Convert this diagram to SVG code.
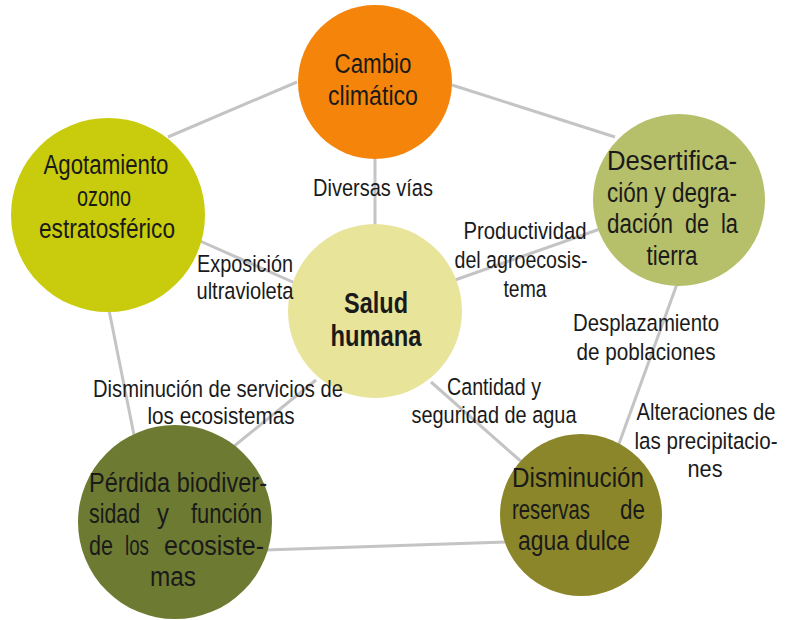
<svg xmlns="http://www.w3.org/2000/svg" width="794" height="620" viewBox="0 0 794 620">
<style>
text{font-family:"Liberation Sans","Arial",sans-serif;fill:#1a1a1a}
.n{font-size:27px;text-anchor:middle}
.l{font-size:24.5px;text-anchor:middle}
.b{font-size:29px;font-weight:bold;text-anchor:middle}
.s{text-anchor:start}
.e{text-anchor:end}
.c line{stroke:#c4c4c4;stroke-width:3}
</style>
<rect width="794" height="620" fill="#ffffff"/>
<g id="connectors" class="c">
<line x1="297" y1="82" x2="168" y2="137"/>
<line x1="452" y1="85" x2="615" y2="137"/>
<line x1="375" y1="150" x2="375" y2="230"/>
<line x1="200" y1="241" x2="295" y2="283"/>
<line x1="455" y1="280" x2="600" y2="229"/>
<line x1="109" y1="310" x2="136" y2="445"/>
<line x1="677" y1="284" x2="616" y2="452"/>
<line x1="316" y1="380" x2="228" y2="451"/>
<line x1="431" y1="382" x2="524" y2="464"/>
<line x1="265" y1="550" x2="506" y2="542"/>
</g>
<g id="cambio">
<circle cx="375" cy="82" r="77" fill="#f4850a"/>
<text class="n" x="373" y="73" textLength="77" lengthAdjust="spacingAndGlyphs">Cambio</text>
<text class="n" x="373" y="105" textLength="90" lengthAdjust="spacingAndGlyphs">climático</text>
</g>
<g id="desertificacion">
<circle cx="679" cy="200" r="86" fill="#b6bf6a"/>
<text class="n s" x="607" y="170" textLength="130" lengthAdjust="spacingAndGlyphs">Desertifica-</text>
<text class="n s" x="607" y="202" textLength="130" lengthAdjust="spacingAndGlyphs">ción y degra-</text>
<text class="n s" x="607" y="233" textLength="66" lengthAdjust="spacingAndGlyphs">dación</text>
<text class="n s" x="685" y="233" textLength="24" lengthAdjust="spacingAndGlyphs">de</text>
<text class="n e" x="738" y="233" textLength="17" lengthAdjust="spacingAndGlyphs">la</text>
<text class="n" x="672" y="265" textLength="51" lengthAdjust="spacingAndGlyphs">tierra</text>
</g>
<g id="agotamiento">
<circle cx="108" cy="215" r="97" fill="#c8cc0c"/>
<text class="n" x="106" y="174" textLength="125" lengthAdjust="spacingAndGlyphs">Agotamiento</text>
<text class="n" x="104" y="206" textLength="54" lengthAdjust="spacingAndGlyphs">ozono</text>
<text class="n" x="107" y="238" textLength="136" lengthAdjust="spacingAndGlyphs">estratosférico</text>
</g>
<g id="salud">
<circle cx="375" cy="311" r="87" fill="#e8e49a"/>
<text class="b" x="376" y="313" textLength="64" lengthAdjust="spacingAndGlyphs">Salud</text>
<text class="b" x="376" y="346" textLength="91" lengthAdjust="spacingAndGlyphs">humana</text>
</g>
<g id="perdida">
<circle cx="175" cy="522" r="97" fill="#6d7a32"/>
<text class="n s" x="89" y="492" textLength="178" lengthAdjust="spacingAndGlyphs">Pérdida biodiver-</text>
<text class="n s" x="89" y="523" textLength="51" lengthAdjust="spacingAndGlyphs">sidad</text>
<text class="n s" x="157" y="523" textLength="12" lengthAdjust="spacingAndGlyphs">y</text>
<text class="n e" x="262" y="523" textLength="71" lengthAdjust="spacingAndGlyphs">función</text>
<text class="n s" x="89" y="555" textLength="24" lengthAdjust="spacingAndGlyphs">de</text>
<text class="n s" x="125" y="555" textLength="24" lengthAdjust="spacingAndGlyphs">los</text>
<text class="n e" x="264" y="555" textLength="100" lengthAdjust="spacingAndGlyphs">ecosiste-</text>
<text class="n" x="173" y="586" textLength="46" lengthAdjust="spacingAndGlyphs">mas</text>
</g>
<g id="disminucion">
<circle cx="581" cy="515" r="81" fill="#8b8629"/>
<text class="n" x="578" y="487" textLength="132" lengthAdjust="spacingAndGlyphs">Disminución</text>
<text class="n s" x="512" y="519" textLength="78" lengthAdjust="spacingAndGlyphs">reservas</text>
<text class="n e" x="645" y="519" textLength="25" lengthAdjust="spacingAndGlyphs">de</text>
<text class="n" x="574" y="550" textLength="112" lengthAdjust="spacingAndGlyphs">agua dulce</text>
</g>
<g id="labels">
<text class="l" x="373" y="196" textLength="120" lengthAdjust="spacingAndGlyphs">Diversas vías</text>
<text class="l" x="245" y="272" textLength="96" lengthAdjust="spacingAndGlyphs">Exposición</text>
<text class="l" x="245" y="299" textLength="97" lengthAdjust="spacingAndGlyphs">ultravioleta</text>
<text class="l" x="525" y="239" textLength="123" lengthAdjust="spacingAndGlyphs">Productividad</text>
<text class="l" x="521" y="268" textLength="133" lengthAdjust="spacingAndGlyphs">del agroecosis-</text>
<text class="l" x="525" y="297" textLength="43" lengthAdjust="spacingAndGlyphs">tema</text>
<text class="l" x="646" y="331" textLength="146" lengthAdjust="spacingAndGlyphs">Desplazamiento</text>
<text class="l" x="646" y="360" textLength="139" lengthAdjust="spacingAndGlyphs">de poblaciones</text>
<text class="l" x="218" y="397" textLength="250" lengthAdjust="spacingAndGlyphs">Disminución de servicios de</text>
<text class="l" x="221" y="424" textLength="147" lengthAdjust="spacingAndGlyphs">los ecosistemas</text>
<text class="l" x="494" y="395" textLength="94" lengthAdjust="spacingAndGlyphs">Cantidad y</text>
<text class="l" x="494" y="423" textLength="165" lengthAdjust="spacingAndGlyphs">seguridad de agua</text>
<text class="l" x="706" y="420" textLength="139" lengthAdjust="spacingAndGlyphs">Alteraciones de</text>
<text class="l" x="706" y="449" textLength="143" lengthAdjust="spacingAndGlyphs">las precipitacio-</text>
<text class="l" x="705" y="477" textLength="35" lengthAdjust="spacingAndGlyphs">nes</text>
</g>
</svg>
